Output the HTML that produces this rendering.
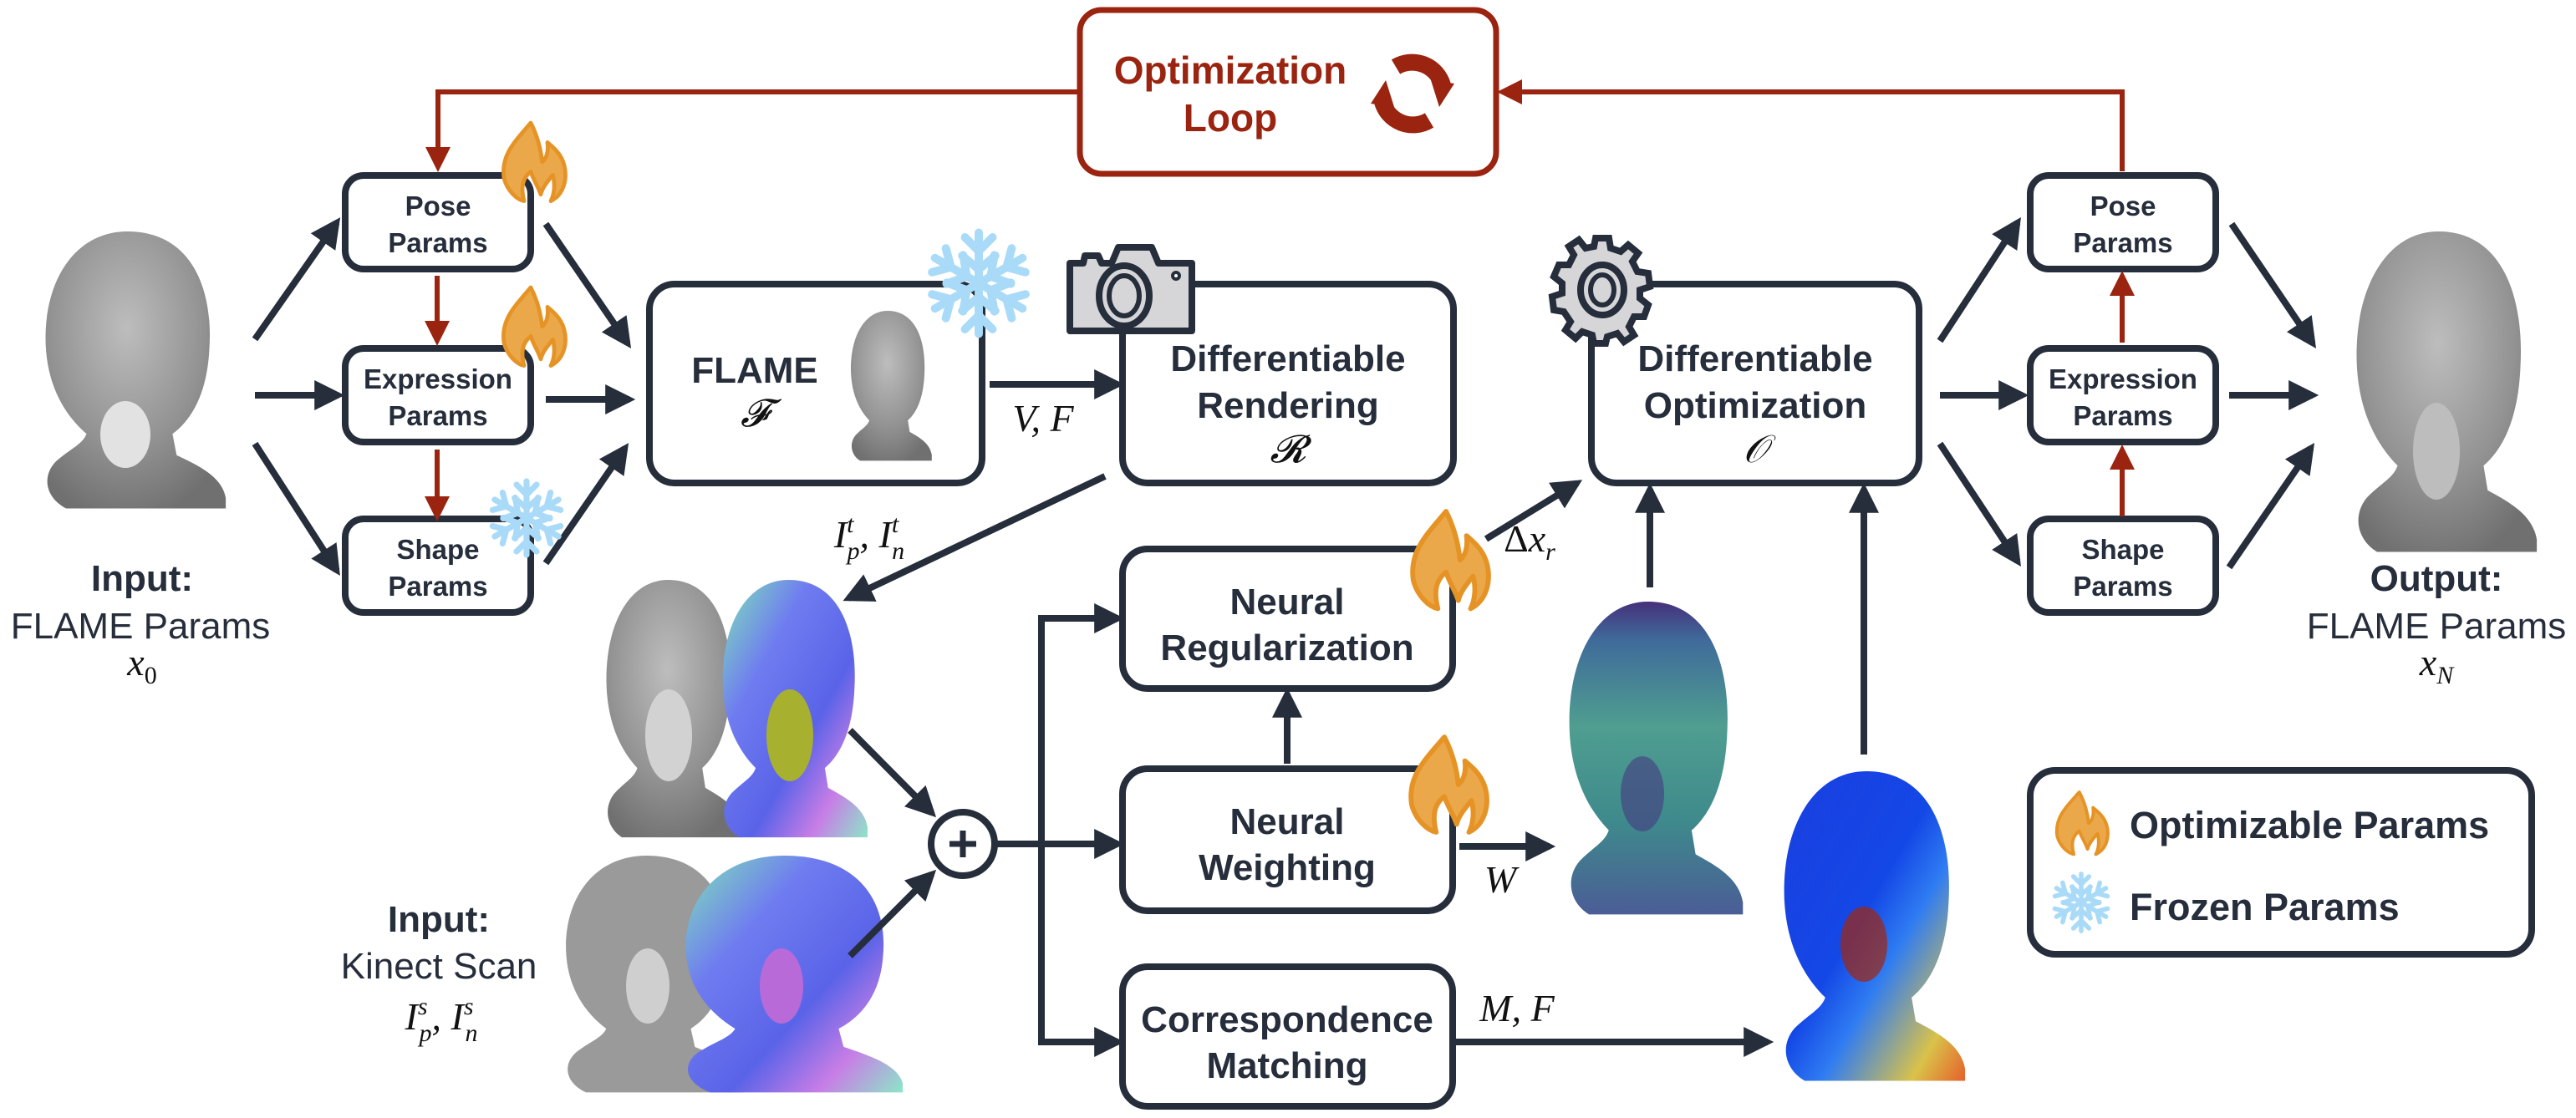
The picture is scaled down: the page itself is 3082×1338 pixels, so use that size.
<!DOCTYPE html>
<html><head><meta charset="utf-8"><style>
html,body{margin:0;padding:0;background:#fff}
svg{display:block}
.b{font-family:"Liberation Sans",sans-serif;font-weight:bold;fill:#262d3b}
.r{font-family:"Liberation Sans",sans-serif;fill:#262d3b}
.m{font-family:"Liberation Serif",serif;font-style:italic;fill:#111}
</style></head><body>
<svg width="3082" height="1338" viewBox="0 0 3082 1338" xmlns="http://www.w3.org/2000/svg">
<defs>
<marker id="ah" markerWidth="4.5" markerHeight="4.5" refX="3.6" refY="2.25" orient="auto" markerUnits="strokeWidth"><path d="M0,0 L4.5,2.25 L0,4.5 Z" fill="#262d3b"/></marker>
<marker id="ar" markerWidth="5" markerHeight="5" refX="4" refY="2.5" orient="auto" markerUnits="strokeWidth"><path d="M0,0 L5,2.5 L0,5 Z" fill="#9b2410"/></marker>
<radialGradient id="gray" cx="0.45" cy="0.35" r="0.7"><stop offset="0" stop-color="#bdbdbd"/><stop offset="0.6" stop-color="#939393"/><stop offset="1" stop-color="#707070"/></radialGradient>
<linearGradient id="norm" x1="0" y1="0" x2="1" y2="1"><stop offset="0" stop-color="#7fe3b8"/><stop offset="0.3" stop-color="#6f7cf0"/><stop offset="0.6" stop-color="#5a63e8"/><stop offset="0.8" stop-color="#c77de6"/><stop offset="1" stop-color="#8ce6c8"/></linearGradient>
<linearGradient id="vir" x1="0" y1="0" x2="0" y2="1"><stop offset="0" stop-color="#46307a"/><stop offset="0.12" stop-color="#3f6a9a"/><stop offset="0.4" stop-color="#4f9e90"/><stop offset="0.7" stop-color="#3e8a8c"/><stop offset="1" stop-color="#4b5d96"/></linearGradient>
<linearGradient id="jet" x1="0" y1="0" x2="1" y2="1"><stop offset="0" stop-color="#1a3ee0"/><stop offset="0.45" stop-color="#1448e6"/><stop offset="0.6" stop-color="#2f7cf2"/><stop offset="0.85" stop-color="#d9c24a"/><stop offset="1" stop-color="#e5602a"/></linearGradient>
<path id="head" d="M50,0 C80,0 92,25 90,55 C89,75 82,88 72,95 L74,105 C85,110 96,115 98,125 L98,130 L20,130 C10,125 8,115 15,108 C22,102 28,100 30,95 C18,85 10,70 10,50 C10,22 25,0 50,0 Z"/>
<g id="fire"><path d="M45,0 C20,30 0,50 5,85 C10,105 25,118 35,120 C30,100 32,85 45,75 C50,90 55,95 60,110 C62,100 70,90 78,80 C82,95 80,110 75,120 C95,110 100,85 95,65 C90,45 75,35 70,30 C72,45 68,55 62,60 C60,40 55,20 45,0 Z" fill="#eaa84a" stroke="#e69326" stroke-width="6" stroke-linejoin="round"/></g>
<g id="snow" stroke="#a9dbf8" stroke-width="9" stroke-linecap="round" fill="none">
<g id="arm"><line x1="0" y1="-55" x2="0" y2="55"/><polyline points="-15,-50 0,-35 15,-50"/><polyline points="-15,50 0,35 15,50"/><polyline points="-18,-30 0,-15 18,-30"/><polyline points="-18,30 0,15 18,30"/></g>
<use href="#arm" transform="rotate(60)"/><use href="#arm" transform="rotate(120)"/>
</g>
</defs>

<g fill="none" stroke="#262d3b" stroke-width="8">
<rect x="413" y="210" width="222" height="112" rx="22"/>
<rect x="413" y="417" width="222" height="112" rx="22"/>
<rect x="413" y="621" width="222" height="112" rx="22"/>
<rect x="2429" y="210" width="222" height="112" rx="22"/>
<rect x="2429" y="417" width="222" height="112" rx="22"/>
<rect x="2429" y="621" width="222" height="112" rx="22"/>
<rect x="777" y="340" width="398" height="238" rx="30"/>
<rect x="1343" y="340" width="396" height="238" rx="30"/>
<rect x="1904" y="340" width="392" height="238" rx="30"/>
<rect x="1343" y="657" width="395" height="167" rx="30"/>
<rect x="1343" y="920" width="395" height="170" rx="30"/>
<rect x="1343" y="1157" width="395" height="167" rx="30"/>
<rect x="2429" y="922" width="600" height="220" rx="30"/>
<circle cx="1152" cy="1010" r="38"/>
</g>
<g fill="none" stroke="#9b2410" stroke-width="7">
<rect x="1292" y="12" width="498" height="196" rx="26"/>
</g>

<!-- heads -->
<use href="#head" fill="url(#gray)" transform="translate(30,277) scale(2.45,2.55)"/>
<ellipse cx="150" cy="520" rx="30" ry="40" fill="#e2e2e2"/>
<use href="#head" fill="url(#gray)" transform="translate(2795,277) scale(2.45,2.95)"/>
<ellipse cx="2915" cy="540" rx="28" ry="58" fill="#bdbdbd"/>
<use href="#head" fill="url(#gray)" transform="translate(1007,372) scale(1.1,1.38)"/>
<use href="#head" fill="url(#gray)" transform="translate(707,694) scale(1.85,2.37)"/>
<ellipse cx="800" cy="880" rx="28" ry="55" fill="#d2d2d2"/>
<use href="#head" fill="url(#norm)" transform="translate(845,694) scale(1.97,2.37)"/>
<ellipse cx="945" cy="880" rx="28" ry="55" fill="#a8b030"/>
<use href="#head" fill="#9a9a9a" transform="translate(653,1024) scale(2.41,2.18)"/>
<ellipse cx="775" cy="1180" rx="26" ry="45" fill="#cfcfcf"/>
<use href="#head" fill="url(#norm)" transform="translate(791,1024) scale(2.95,2.18)"/>
<ellipse cx="935" cy="1180" rx="26" ry="45" fill="#b86bd8"/>
<use href="#head" fill="url(#vir)" transform="translate(1854,720) scale(2.36,2.88)"/>
<ellipse cx="1965" cy="950" rx="26" ry="45" fill="#463a80" opacity="0.6"/>
<use href="#head" fill="url(#jet)" transform="translate(2110,923) scale(2.46,2.85)"/>
<ellipse cx="2230" cy="1130" rx="28" ry="45" fill="#a3260c" opacity="0.7"/>

<g stroke="#262d3b" stroke-width="8" fill="none" marker-end="url(#ah)">
<line x1="305" y1="406" x2="403" y2="266"/>
<line x1="305" y1="473" x2="405" y2="473"/>
<line x1="305" y1="531" x2="403" y2="683"/>
<line x1="653" y1="268" x2="751" y2="411"/>
<line x1="653" y1="478" x2="753" y2="478"/>
<line x1="653" y1="674" x2="748" y2="536"/>
<line x1="1184" y1="460" x2="1338" y2="460"/>
<line x1="1322" y1="570" x2="1015" y2="716"/>
<line x1="1017" y1="874" x2="1115" y2="973"/>
<line x1="1017" y1="1144" x2="1115" y2="1046"/>
<line x1="1246" y1="740" x2="1338" y2="740"/>
<line x1="1190" y1="1010" x2="1338" y2="1010"/>
<line x1="1246" y1="1247" x2="1338" y2="1247"/>
<line x1="1540" y1="914" x2="1540" y2="830"/>
<line x1="1778" y1="645" x2="1887" y2="578"/>
<line x1="1974" y1="703" x2="1974" y2="585"/>
<line x1="2230" y1="903" x2="2230" y2="585"/>
<line x1="1746" y1="1013" x2="1854" y2="1013"/>
<line x1="1741" y1="1247" x2="2115" y2="1247"/>
<line x1="2321" y1="408" x2="2414" y2="266"/>
<line x1="2321" y1="473" x2="2420" y2="473"/>
<line x1="2321" y1="531" x2="2414" y2="672"/>
<line x1="2670" y1="268" x2="2767" y2="411"/>
<line x1="2667" y1="473" x2="2767" y2="473"/>
<line x1="2667" y1="679" x2="2765" y2="536"/>
</g>
<line x1="1246" y1="736" x2="1246" y2="1251" stroke="#262d3b" stroke-width="8"/>

<g stroke="#9b2410" stroke-width="6" fill="none" marker-end="url(#ar)">
<polyline points="1292,110 524,110 524,200"/>
<polyline points="2539,205 2539,110 1797,110"/>
<line x1="523" y1="330" x2="523" y2="408"/>
<line x1="523" y1="538" x2="523" y2="618"/>
<line x1="2539" y1="410" x2="2539" y2="330"/>
<line x1="2539" y1="618" x2="2539" y2="538"/>
</g>

<!-- loop icon -->
<g transform="translate(1690,112)" fill="none" stroke="#9b2410" stroke-width="20">
<path d="M-20,-32 A38,38 0 0 1 36,-10"/>
<path d="M20,32 A38,38 0 0 1 -36,10"/>
</g>
<path d="M1712,96 L1740,100 L1722,128 Z M1668,128 L1640,124 L1658,96 Z" fill="#9b2410"/>

<g stroke="#262d3b" stroke-width="8" stroke-linejoin="round">
<path d="M1280,315 L1296,315 L1298,306 L1314,306 L1318,315 L1330,315 L1338,296 L1378,296 L1386,315 L1426,315 L1426,396 L1280,396 Z" fill="#d6d6d8"/>
<ellipse cx="1345" cy="354" rx="30" ry="36" fill="#d6d6d8"/>
<ellipse cx="1345" cy="354" rx="18" ry="24" fill="none" stroke-width="6"/>
<circle cx="1407" cy="330" r="4" fill="#fff" stroke-width="4"/>
</g>
<g transform="translate(1917,347)" stroke="#262d3b" stroke-width="8" fill="#d6d6d8">
<path d="M-8,-62 L8,-62 L10,-50 L22,-46 L31,-54 L43,-44 L36,-34 L42,-22 L55,-20 L57,-4 L45,0 L45,10 L55,18 L50,32 L38,32 L32,44 L38,54 L26,62 L18,52 L6,56 L4,64 L-10,64 L-12,54 L-24,50 L-32,58 L-44,48 L-38,38 L-46,26 L-58,24 L-60,8 L-48,4 L-48,-8 L-58,-16 L-52,-30 L-40,-30 L-34,-42 L-40,-52 L-28,-60 L-20,-50 L-10,-52 Z"/>
<ellipse cx="0" cy="0" rx="26" ry="30"/>
<ellipse cx="0" cy="0" rx="14" ry="18" fill="none" stroke-width="6"/>
</g>

<use href="#fire" transform="translate(599,147) scale(0.8,0.78)"/>
<use href="#fire" transform="translate(599,344) scale(0.8,0.78)"/>
<use href="#fire" transform="translate(1686,612) scale(0.98,0.97)"/>
<use href="#fire" transform="translate(1684,882) scale(0.98,0.95)"/>
<use href="#fire" transform="translate(2458,948) scale(0.66,0.62)"/>
<use href="#snow" transform="translate(1171,339) scale(1.1)"/>
<use href="#snow" transform="translate(630,620) scale(0.8)"/>
<use href="#snow" transform="translate(2490,1080) scale(0.62)"/>

<path d="M1152,994 V1026 M1136,1010 H1168" stroke="#262d3b" stroke-width="7"/>

<g class="b" text-anchor="middle">
<text x="1472" y="100" font-size="46" style="fill:#9b2410">Optimization</text>
<text x="1472" y="157" font-size="46" style="fill:#9b2410">Loop</text>
<g font-size="33">
<text x="524" y="258">Pose</text><text x="524" y="302">Params</text>
<text x="524" y="465">Expression</text><text x="524" y="509">Params</text>
<text x="524" y="669">Shape</text><text x="524" y="713">Params</text>
<text x="2540" y="258">Pose</text><text x="2540" y="302">Params</text>
<text x="2540" y="465">Expression</text><text x="2540" y="509">Params</text>
<text x="2540" y="669">Shape</text><text x="2540" y="713">Params</text>
</g>
<g font-size="44">
<text x="903" y="458">FLAME</text>
<text x="1541" y="444">Differentiable</text><text x="1541" y="500">Rendering</text>
<text x="2100" y="444">Differentiable</text><text x="2100" y="500">Optimization</text>
<text x="1540" y="735">Neural</text><text x="1540" y="790">Regularization</text>
<text x="1540" y="998">Neural</text><text x="1540" y="1053">Weighting</text>
<text x="1540" y="1235">Correspondence</text><text x="1540" y="1290">Matching</text>
<text x="170" y="707">Input:</text>
<text x="2915" y="707">Output:</text>
<text x="525" y="1115">Input:</text>
</g>
</g>
<g class="b" font-size="45" text-anchor="start">
<text x="2548" y="1003">Optimizable Params</text>
<text x="2548" y="1101">Frozen Params</text>
</g>
<g class="r" font-size="44" text-anchor="middle">
<text x="168" y="764">FLAME Params</text>
<text x="2915" y="764">FLAME Params</text>
<text x="525" y="1171">Kinect Scan</text>
</g>
<g class="m" font-size="46" text-anchor="middle">
<text x="903" y="510">𝓕</text>
<text x="1541" y="553">𝓡</text>
<text x="2100" y="553">𝒪</text>
<text x="170" y="808">x<tspan font-size="30" dy="10" font-style="normal">0</tspan></text>
<text x="2915" y="808">x<tspan font-size="30" dy="10">N</tspan></text>
<text x="1248" y="516">V, F</text>
<text x="1795" y="1068">W</text>
<text x="1815" y="1222">M, F</text>
<text x="1040" y="655">I<tspan font-size="30" dy="-18">t</tspan><tspan font-size="30" dx="-8" dy="32">p</tspan><tspan dy="-14">, I</tspan><tspan font-size="30" dy="-18">t</tspan><tspan font-size="30" dx="-8" dy="32">n</tspan></text>
<text x="528" y="1232">I<tspan font-size="30" dy="-18">s</tspan><tspan font-size="30" dx="-10" dy="32">p</tspan><tspan dy="-14">, I</tspan><tspan font-size="30" dy="-18">s</tspan><tspan font-size="30" dx="-10" dy="32">n</tspan></text>
<text x="1830" y="660"><tspan font-style="normal">Δ</tspan>x<tspan font-size="30" dy="10">r</tspan></text>
</g>
</svg>
</body></html>
